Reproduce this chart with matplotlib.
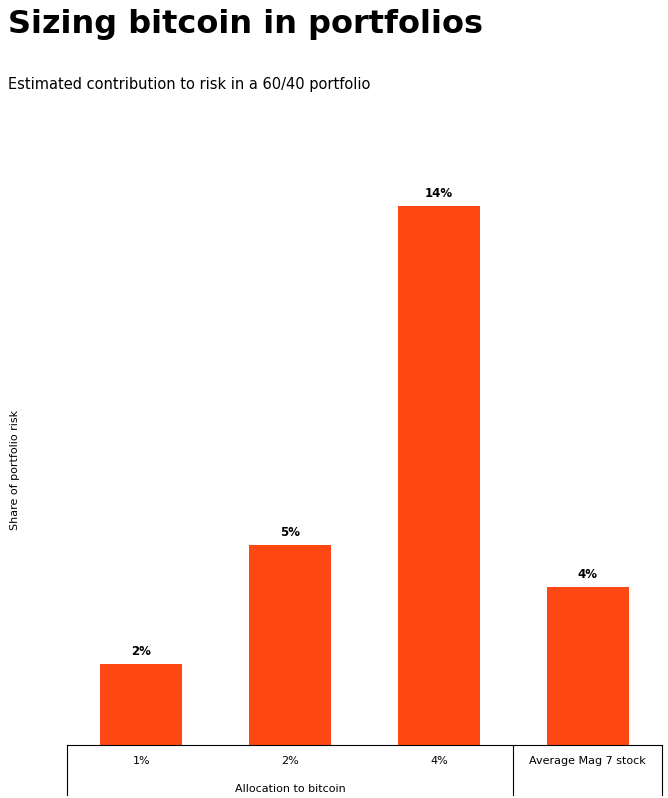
import matplotlib.pyplot as plt

categories = ["1%", "2%", "4%", "Average Mag 7 stock"]
risk_share = [2.1, 5.2, 14.0, 4.1]
value_labels = ["2%", "5%", "14%", "4%"]

fig = plt.figure(figsize=(6.68, 7.98), dpi=100)
ax = fig.add_axes([67 / 668, 1 - 745 / 798, 595 / 668, 595 / 798])

x = range(len(categories))
bars = ax.bar(x, risk_share, width=0.55, color="#FF4713")
for b, lab in zip(bars, value_labels):
    ax.text(b.get_x() + b.get_width() / 2, b.get_height() + 0.15, lab,
            ha="center", va="bottom", fontsize=8.5, fontweight="bold")

ax.set_xlim(-0.5, 3.5)
ax.set_ylim(0, 14 * 595 / 539)
for s in ["top", "right", "left"]:
    ax.spines[s].set_visible(False)
ax.spines["bottom"].set_linewidth(0.8)
ax.set_yticks([])
ax.set_xticks(list(x))
ax.set_xticklabels(categories, fontsize=8)
ax.tick_params(axis="x", length=0, pad=8)

# group separators below the axis
for xs in [-0.5, 2.5, 3.5]:
    ax.plot([xs, xs], [0, -1.3], color="black", lw=0.8, clip_on=False)
ax.text(1, -1.15, "Allocation to bitcoin", ha="center", va="center", fontsize=8)

fig.text(15 / 668, 1 - 470 / 798, "Share of portfolio risk", rotation=90,
         ha="center", va="center", fontsize=8)
fig.text(8 / 668, 1 - 25 / 798, "Sizing bitcoin in portfolios", fontsize=23,
         fontweight="bold", ha="left", va="center")
fig.text(8 / 668, 1 - 85 / 798, "Estimated contribution to risk in a 60/40 portfolio",
         fontsize=10.5, ha="left", va="center")

fig.savefig("out.png", dpi=100)
